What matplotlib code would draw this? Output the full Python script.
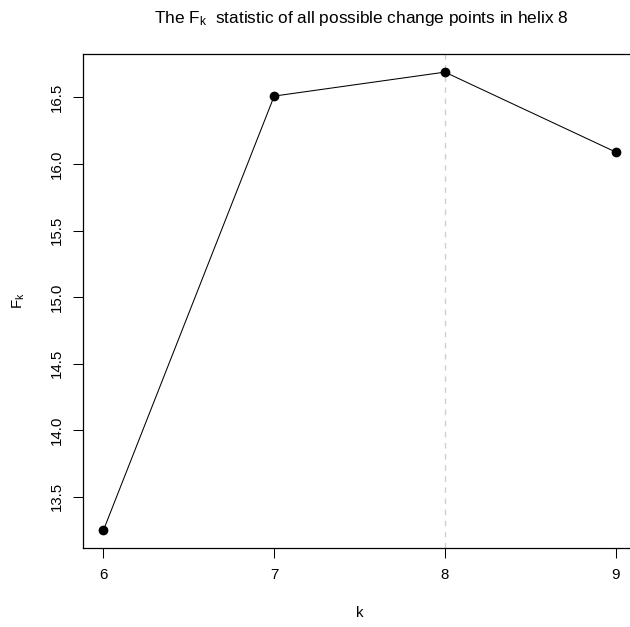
import matplotlib
matplotlib.use("Agg")
import matplotlib.pyplot as plt

plt.rcParams['font.family'] = ['Liberation Sans', 'DejaVu Sans']
plt.rcParams['mathtext.default'] = 'regular'

k = [6, 7, 8, 9]
Fk = [13.25, 16.51, 16.69, 16.09]
best_k = 8
xticks = [6, 7, 8, 9]
yticks = [13.5, 14.0, 14.5, 15.0, 15.5, 16.0, 16.5]

fig = plt.figure(figsize=(6.3, 6.27), dpi=100)
ax = fig.add_axes([0.1317, 0.1252, 0.878, 0.789])

ax.axvline(best_k, color='#d0d0d0', linestyle=(0, (4, 4)), linewidth=1.0, zorder=1)
ax.plot(k, Fk, color='black', linewidth=0.75, marker='o', markersize=6, zorder=2)

pad_x = 0.04 * (max(k) - min(k))
pad_y = 0.04 * (max(Fk) - min(Fk))
ax.set_xlim(min(k) - pad_x, max(k) + pad_x)
ax.set_ylim(min(Fk) - pad_y, max(Fk) + pad_y)

ax.set_xticks(xticks)
ax.set_yticks(yticks)
ax.set_yticklabels(['%.1f' % v for v in yticks], rotation=90, va='center')
ax.tick_params(labelsize=10.8, length=7, width=0.75, pad=7)
ax.spines['right'].set_visible(False)
for s in ax.spines.values():
    s.set_linewidth(0.9)

ax.set_xlabel('k', fontsize=10.8, labelpad=17)
ax.set_ylabel('$F_k$', fontsize=10.8, labelpad=16)
fig.suptitle('The $F_k$  statistic of all possible change points in helix 8',
             x=0.573, y=0.985, fontsize=12.4)

fig.savefig('out.png', dpi=100)
